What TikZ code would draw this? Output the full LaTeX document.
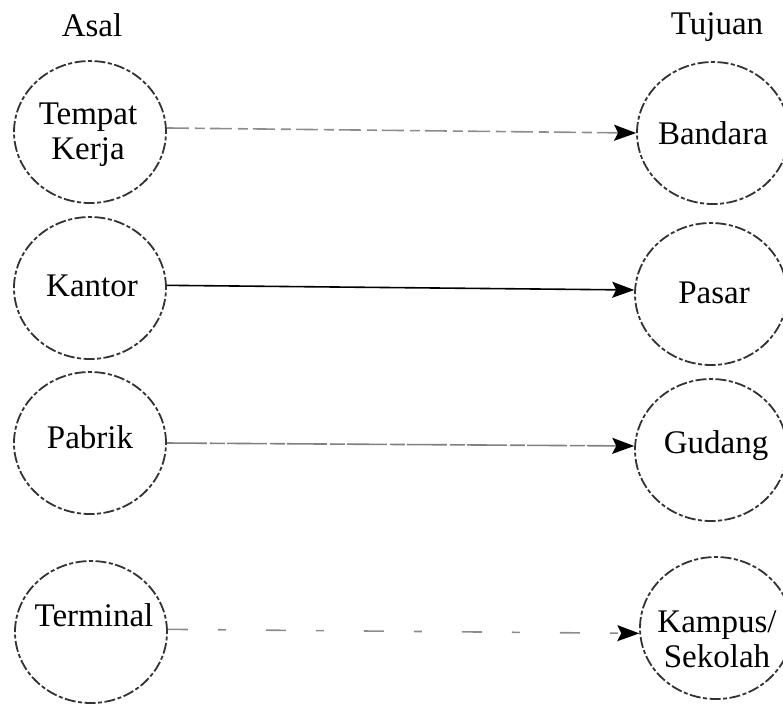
\documentclass[tikz,border=0pt]{standalone}
\usepackage{fontspec}
\setmainfont{Liberation Serif}
\usetikzlibrary{arrows.meta,shapes.geometric}
\begin{document}
\begin{tikzpicture}[x=1pt,y=-1pt,
  place/.style={ellipse, draw=black!80, line width=1.8pt,
    dash pattern=on 11pt off 2.5pt on 4pt off 2.5pt,
    minimum width=152pt, minimum height=142pt, inner sep=0pt},
  tx/.style={font=\fontsize{33}{35}\selectfont, align=center, inner sep=0pt},
  head/.style={-{Stealth[length=22pt,width=16pt,inset=4pt,color=black]}},
  flow/.style={head, line width=1.6pt},
  faint/.style={flow, draw=black!45, dash pattern=on 22pt off 6pt on 10pt off 5pt},
  fine/.style={flow, draw=black!50, dash pattern=on 40pt off 3pt on 15pt off 2pt},
  sparse/.style={flow, draw=black!45, dash pattern=on 20pt off 30pt on 8pt off 40pt},
]
\useasboundingbox (0,0) rectangle (783,705);

% column headings
\node[tx] (asal) at (92,25) {Asal};
\node[tx] (tujuan) at (717,27) {Tujuan};

% origins
\node[place] (l1) at (90,132) {};
\node[place] (l2) at (90,288) {};
\node[place] (l3) at (90,443) {};
\node[place] (l4) at (91,632) {};
\node[tx] (l1t) at (88,135) {Tempat\\Kerja};
\node[tx] (l2t) at (92,286) {Kantor};
\node[tx] (l3t) at (90,437) {Pabrik};
\node[tx] (l4t) at (94,615) {Terminal};

% destinations
\node[place] (r1) at (713,133) {};
\node[place] (r2) at (711,294) {};
\node[place] (r3) at (711,450) {};
\node[place] (r4) at (716,628) {};
\node[tx] (r1t) at (713,133) {Bandara};
\node[tx] (r2t) at (714,293) {Pasar};
\node[tx] (r3t) at (716,446) {Gudang};
\node[tx] (r4t) at (717,639) {Kampus/\\Sekolah};

% trips
\draw[faint] (l1.3) -- (r1.west);
\draw[flow] (l2.2) -- (r2.177);
\draw[fine] (l3.east) -- (r3.177);
\draw[sparse] (l4.2) -- (r4.184);
\end{tikzpicture}
\end{document}
